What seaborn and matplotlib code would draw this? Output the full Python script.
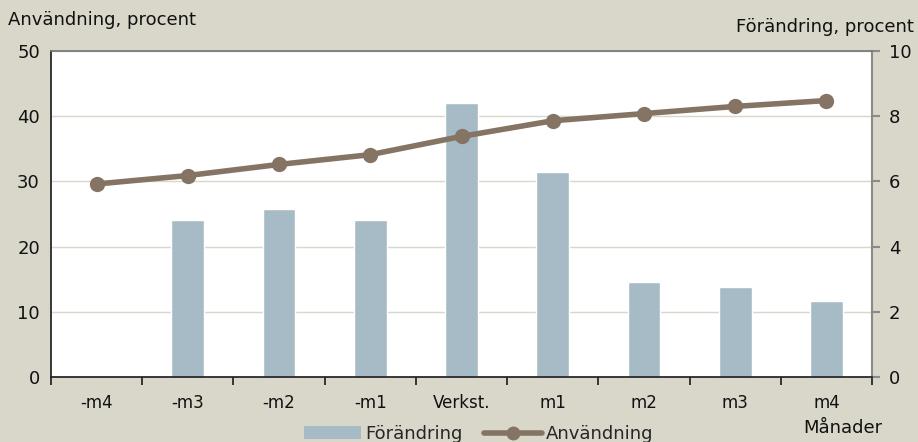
import numpy as np
import pandas as pd
import matplotlib
matplotlib.use("Agg")
import matplotlib.pyplot as plt
import seaborn as sns
from matplotlib.patches import Patch
from matplotlib.lines import Line2D

# data
months = ["-m4", "-m3", "-m2", "-m1", "Verkst.", "m1", "m2", "m3", "m4"]
forandring = [np.nan, 4.82, 5.15, 4.82, 8.40, 6.30, 2.90, 2.77, 2.33]   # right axis
anvandning = [29.6, 30.9, 32.6, 34.1, 36.9, 39.3, 40.4, 41.5, 42.4]     # left axis

BG = "#d9d6ca"
BAR = "#a7bbc6"
LINE = "#857463"

sns.set_theme(style="white")
plt.rcParams["font.family"] = ["DejaVu Sans"]

df = pd.DataFrame({"month": months, "forandring": forandring, "anvandning": anvandning})

fig = plt.figure(figsize=(9.18, 4.42), dpi=100, facecolor=BG)
ax = fig.add_axes([51 / 918, 65 / 442, 821 / 918, 326 / 442])
ax.set_facecolor("white")

# bars on the primary axes (scale shown on the right)
sns.barplot(data=df, x="month", y="forandring", order=months, color=BAR,
            width=0.36, saturation=1, ax=ax, zorder=2)
ax.set_ylim(0, 10)
ax.set_yticks(range(0, 11, 2))
ax.grid(axis="y", color=BG, linewidth=1)
ax.set_axisbelow(True)

# line on the twin axes (scale shown on the left)
ax2 = ax.twinx()
sns.lineplot(data=df, x="month", y="anvandning", sort=False, color=LINE,
             linewidth=4, marker="o", markersize=11, markeredgewidth=0, ax=ax2)
ax2.set_ylim(0, 50)
ax2.set_yticks(range(0, 51, 10))
ax2.set_xlim(-0.5, len(months) - 0.5)
ax.set_xlim(-0.5, len(months) - 0.5)

# swap sides after twinx
ax.yaxis.tick_right()
ax2.yaxis.tick_left()

for a in (ax, ax2):
    a.set_xlabel("")
    a.set_ylabel("")
    for s in a.spines.values():
        s.set_visible(False)

# spines
ax.spines["left"].set_visible(True)
ax.spines["left"].set_color("#222222")
ax.spines["bottom"].set_visible(True)
ax.spines["bottom"].set_color("#222222")
ax.spines["top"].set_visible(True)
ax.spines["top"].set_color("#777777")
ax.spines["right"].set_visible(True)
ax.spines["right"].set_color("#8a8a8a")
ax.spines["right"].set_linewidth(1.5)

# x ticks between categories, labels at centres
ax.set_xticks(np.arange(-0.5, len(months), 1.0))
ax.set_xticklabels([])
ax.set_xticks(range(len(months)), minor=True)
ax.set_xticklabels(months, minor=True)
ax.tick_params(axis="x", which="major", direction="out", length=6, color="#222222", bottom=True)
ax.tick_params(axis="x", which="minor", length=0, pad=12, labelsize=12, labelcolor="#111111")
ax.tick_params(axis="y", direction="out", length=6, width=1.5, color="#8a8a8a",
               left=False, labelleft=False, right=True, labelright=True,
               labelsize=13, labelcolor="#111111", pad=6)
ax2.tick_params(axis="y", length=0, right=False, labelright=False, left=True, labelleft=True,
                labelsize=13, labelcolor="#111111", pad=8)
ax2.tick_params(axis="x", bottom=False, labelbottom=False)

fig.text(8 / 918, 1 - 20 / 442, "Användning, procent", fontsize=13, va="center", ha="left", color="#111111")
fig.text(914 / 918, 1 - 27 / 442, "Förändring, procent", fontsize=13, va="center", ha="right", color="#111111")
fig.text(882 / 918, 1 - 428 / 442, "Månader", fontsize=13, va="center", ha="right", color="#111111")

handles = [Patch(facecolor=BAR, edgecolor="none"),
           Line2D([0], [0], color=LINE, linewidth=4, marker="o", markersize=9)]
fig.legend(handles, ["Förändring", "Användning"], loc="center", ncol=2,
           bbox_to_anchor=(0.521, 0.018), frameon=False, fontsize=13,
           handlelength=3.2, handletextpad=0.2, columnspacing=1.2)

fig.savefig("out.png", dpi=100, facecolor=BG)
